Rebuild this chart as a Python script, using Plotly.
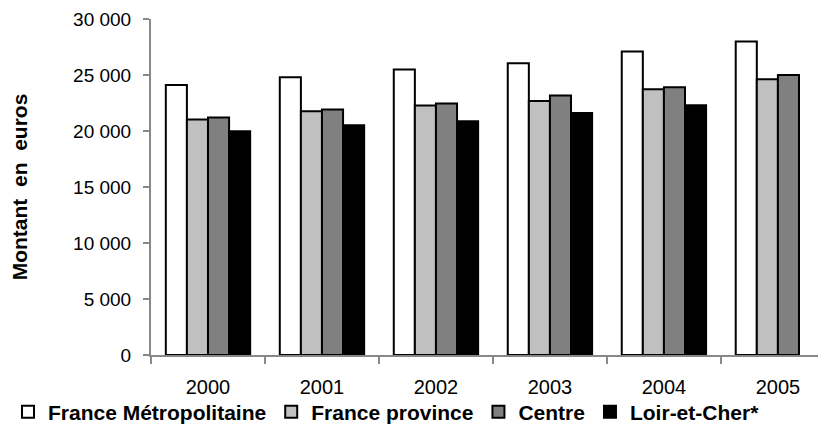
import plotly.graph_objects as go

years = ["2000", "2001", "2002", "2003", "2004", "2005"]
series_names = ["France Métropolitaine", "France province", "Centre", "Loir-et-Cher*"]
france_metro = [24100, 24800, 25500, 26050, 27100, 28000]
france_province = [21030, 21770, 22280, 22670, 23720, 24610]
centre = [21210, 21920, 22460, 23180, 23900, 25000]
loir_et_cher = [19980, 20520, 20880, 21600, 22310, None]
y_ticks = [0, 5000, 10000, 15000, 20000, 25000, 30000]

colors = ["#FFFFFF", "#C0C0C0", "#808080", "#000000"]
values = [france_metro, france_province, centre, loir_et_cher]

fig = go.Figure()
for name, vals, col in zip(series_names, values, colors):
    fig.add_trace(go.Bar(
        x=years, y=vals, name=name,
        marker=dict(color=col, line=dict(color="#000000", width=2)),
    ))

FONT = "Liberation Sans, Arial, sans-serif"
fig.update_layout(
    width=818, height=434,
    margin=dict(l=137, r=0, t=11, b=87),
    paper_bgcolor="white", plot_bgcolor="white",
    barmode="group", bargap=0.26, bargroupgap=0,
    separators=", ",
    font=dict(family=FONT, size=19, color="#000000"),
    showlegend=True,
    legend=dict(
        orientation="h", x=-0.212, xanchor="left", y=-0.17, yanchor="middle",
        font=dict(family=FONT, size=21, color="#000000", weight="bold"),
        itemwidth=30, traceorder="normal",
        bgcolor="rgba(0,0,0,0)",
    ),
    xaxis=dict(
        type="category",
        range=[-0.5, 5.422],
        showline=True, linecolor="#888888", linewidth=2,
        ticks="outside", tickson="boundaries", ticklen=7, tickcolor="#888888", tickwidth=2,
        ticklabelstandoff=13,
        tickfont=dict(family=FONT, size=20, color="#000000"),
        showgrid=False, zeroline=False,
    ),
    yaxis=dict(
        range=[0, 30000],
        tickvals=y_ticks, tickformat=",d",
        showline=True, linecolor="#888888", linewidth=2,
        ticks="outside", ticklen=6, tickcolor="#888888", tickwidth=2,
        ticklabelstandoff=8,
        tickfont=dict(family=FONT, size=19, color="#000000"),
        showgrid=False, zeroline=False,
        title=dict(text="Montant  en  euros", standoff=42,
                   font=dict(family=FONT, size=21, color="#000000", weight="bold")),
    ),
)

fig.write_html("out.html")
